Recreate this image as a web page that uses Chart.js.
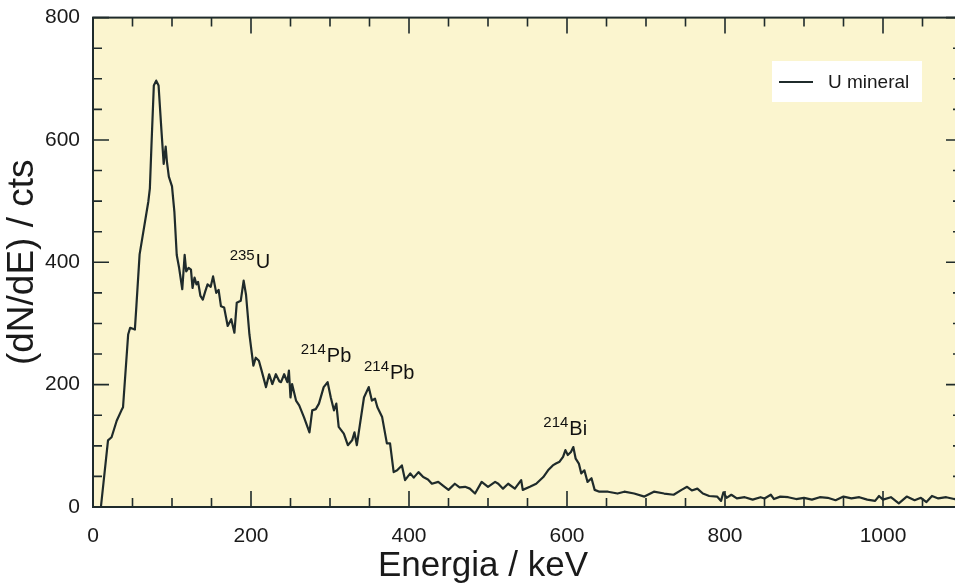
<!DOCTYPE html>
<html>
<head>
<meta charset="utf-8">
<script src="https://cdn.jsdelivr.net/npm/chart.js@4"></script>
<style>
  html, body { margin: 0; padding: 0; background: #fff; overflow: hidden; }
  #wrap { position: relative; width: 970px; height: 586px; }
</style>
</head>
<body>
<div id="wrap"><canvas id="spec"></canvas></div>
<script>
// spectrum (keV, counts)
const energy = [0, 10, 19, 23.5, 30, 36, 38, 44.5, 47, 53, 55, 59, 70, 72, 74, 77, 80, 83, 86.5, 89.5, 92, 93.6, 96, 100,
  103, 106, 109, 113, 116, 118, 121, 124, 126, 128.5, 131, 133, 136, 139, 142, 145, 149, 152, 156, 159, 162, 166, 170.5,
  175, 179, 182, 187, 190.7, 193.7, 198, 203, 206, 210, 213, 219, 223, 227, 231.5, 236, 238, 242, 246, 248, 250, 252,
  257, 261, 267, 274, 277.5, 282, 286, 292, 297, 301, 305, 308, 311, 317.5, 322.6, 328, 331, 334, 338, 343, 349, 353,
  357, 360, 366, 372, 376, 380.6, 385, 391, 395, 401.6, 406, 412, 418, 424, 429, 437, 443, 450, 458, 464, 471, 477,
  483.6, 492, 500, 509, 513, 519, 525.5, 534, 542, 544, 553, 561, 570, 576, 582, 586, 590.6, 595, 598, 601, 605, 608,
  611, 615, 618, 622, 626, 631, 635, 641, 652, 664, 672.5, 685, 698, 710, 723, 735, 745, 752, 758, 765, 772, 780, 790,
  795, 798, 802, 808, 815, 825, 835, 845, 850, 858, 862, 870, 880, 890, 900, 910, 920, 930, 940, 950, 960, 970, 980,
  990, 995, 1000, 1010, 1020, 1030, 1040, 1048, 1055, 1062, 1070, 1080, 1090, 1100];
const counts = [0, 0, 109, 114, 141, 158, 163, 282, 293, 290, 330, 413, 499, 521, 591, 689, 697, 689, 618, 561, 589, 564, 540, 524,
  483, 412, 391, 356, 412, 385, 391, 388, 358, 375, 364, 368, 345, 339, 352, 364, 360, 377, 350, 355, 328, 326, 296,
  307, 285, 334, 337, 370, 347, 282, 231, 244, 239, 225, 196, 217, 201, 217, 205, 204, 217, 204, 223, 179, 201,
  174, 166, 147, 122, 158, 160, 169, 196, 204, 179, 158, 169, 131, 120, 101, 109, 122, 101, 136, 179, 196, 174,
  177, 163, 147, 104, 104, 57, 60, 68, 44, 55, 48, 57, 49, 45, 38, 41, 35, 28, 38, 32, 33, 30,
  22, 41, 33, 41, 38, 30, 38, 30, 44, 28, 33, 38, 49, 60, 68, 71, 74, 82, 93, 85, 90, 98,
  79, 71, 55, 60, 41, 47, 28, 25, 25, 22, 25, 22, 17, 25, 22, 20, 28, 33, 27, 30, 22, 18, 17,
  10, 24, 15, 20, 14, 16, 12, 16, 14, 20, 13, 17, 16, 13, 15, 12, 16, 15, 11, 17, 14, 16, 12,
  10, 18, 12, 16, 6, 17, 11, 15, 8, 18, 14, 16, 13, 15];

const xTicks = [0, 200, 400, 600, 800, 1000];
const yTicks = [0, 200, 400, 600, 800];
const seriesLabel = 'U mineral';

// isotope labels: superscript mass number + element, placed at (keV, counts)
const peakIso = ['235', '214', '214', '214'];
const peakEl = ['U', 'Pb', 'Pb', 'Bi'];
const peakE = [173, 263, 343, 570];
const peakC = [390, 237, 210, 117];

const INK = '#1f2b2b';
const FONT = '"Liberation Sans", Arial, sans-serif';

const decor = {
    id: 'decor',
    beforeDraw(chart) {
        const { ctx, chartArea: a } = chart;
        ctx.save();
        ctx.fillStyle = '#fbf5cf';
        ctx.fillRect(a.left, a.top, a.right - a.left, a.bottom - a.top);
        ctx.restore();
    },
    afterDatasetsDraw(chart) {
        const { ctx, chartArea: a, scales: { x, y } } = chart;
        ctx.save();
        ctx.strokeStyle = INK;
        ctx.lineWidth = 1.6;

        // inward ticks on all four sides
        for (let v = 0; v <= 1100; v += 50) {
            const px = x.getPixelForValue(v);
            const len = v % 200 === 0 ? 16 : 9;
            ctx.beginPath();
            ctx.moveTo(px, a.bottom); ctx.lineTo(px, a.bottom - len);
            ctx.moveTo(px, a.top); ctx.lineTo(px, a.top + len);
            ctx.stroke();
        }
        for (let v = 0; v <= 800; v += 50) {
            const py = y.getPixelForValue(v);
            const len = v % 200 === 0 ? 16 : 9;
            ctx.beginPath();
            ctx.moveTo(a.left, py); ctx.lineTo(a.left + len, py);
            ctx.moveTo(a.right, py); ctx.lineTo(a.right - len, py);
            ctx.stroke();
        }

        // frame
        ctx.lineWidth = 2;
        ctx.strokeRect(a.left, a.top, a.right - a.left, a.bottom - a.top);

        // isotope labels
        ctx.fillStyle = '#111';
        ctx.textBaseline = 'alphabetic';
        ctx.textAlign = 'left';
        peakIso.forEach((iso, i) => {
            const px = x.getPixelForValue(peakE[i]);
            const py = y.getPixelForValue(peakC[i]);
            ctx.font = '15px ' + FONT;
            ctx.fillText(iso, px, py - 8);
            const w = ctx.measureText(iso).width;
            ctx.font = '20px ' + FONT;
            ctx.fillText(peakEl[i], px + w + 1, py);
        });

        // legend box
        ctx.fillStyle = '#ffffff';
        ctx.fillRect(772, 61, 150, 41);
        ctx.strokeStyle = INK;
        ctx.lineWidth = 2;
        ctx.beginPath();
        ctx.moveTo(779, 82); ctx.lineTo(813, 82);
        ctx.stroke();
        ctx.fillStyle = '#1a1a1a';
        ctx.font = '19px ' + FONT;
        ctx.textBaseline = 'middle';
        ctx.fillText(seriesLabel, 828, 83);

        // axis titles
        ctx.textAlign = 'center';
        ctx.font = '35px ' + FONT;
        ctx.fillText('Energia / keV', 483, 566);
        ctx.font = '37px ' + FONT;
        ctx.translate(23, (a.top + a.bottom) / 2);
        ctx.rotate(-Math.PI / 2);
        ctx.fillText('(dN/dE) / cts', 0, 0);
        ctx.restore();
    }
};

const ctx = document.getElementById('spec').getContext('2d');
new Chart(ctx, {
    type: 'line',
    data: {
        datasets: [{
            label: seriesLabel,
            data: energy.map((e, i) => ({ x: e, y: counts[i] })),
            borderColor: INK,
            borderWidth: 2.2,
            borderJoinStyle: 'round',
            pointRadius: 0,
            tension: 0,
            fill: false
        }]
    },
    options: {
        responsive: true,
        maintainAspectRatio: false,
        animation: false,
        layout: { padding: { top: 3, right: 8, left: 0, bottom: 0 } },
        plugins: { legend: { display: false }, tooltip: { enabled: false } },
        scales: {
            x: {
                type: 'linear',
                min: 0, max: 1100,
                afterFit: s => { s.height = 79; },
                afterBuildTicks: s => { s.ticks = xTicks.map(v => ({ value: v })); },
                grid: { display: false },
                border: { display: false },
                ticks: {
                    color: '#1a1a1a', padding: 9, maxRotation: 0,
                    font: { size: 21, family: FONT },
                    callback: v => String(v)
                }
            },
            y: {
                min: 0, max: 800,
                afterFit: s => { s.width = 93; },
                afterBuildTicks: s => { s.ticks = yTicks.map(v => ({ value: v })); },
                grid: { display: false },
                border: { display: false },
                ticks: { color: '#1a1a1a', padding: 5, font: { size: 21, family: FONT } }
            }
        }
    },
    plugins: [decor]
});
</script>
</body>
</html>
